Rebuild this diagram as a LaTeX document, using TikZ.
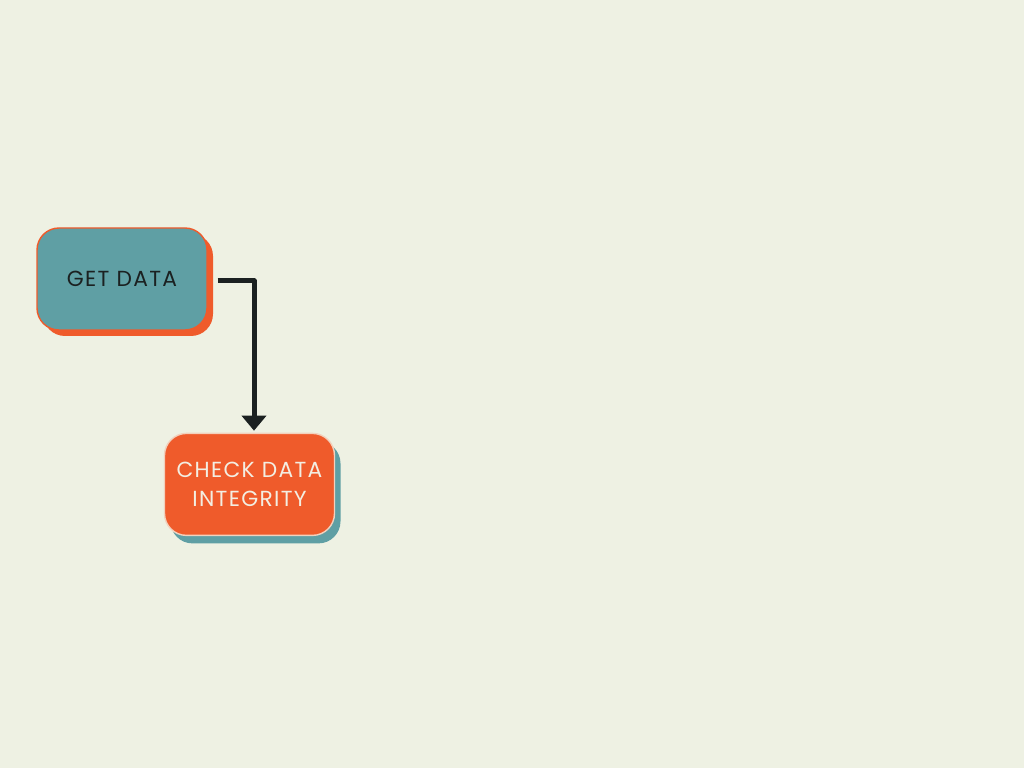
\documentclass[tikz,border=0pt]{standalone}
\usepackage{fontspec}
\setmainfont{Poppins}[LetterSpace=6]
\usetikzlibrary{arrows.meta,positioning,shadows}
\definecolor{bgcream}{HTML}{EEF1E3}
\definecolor{tealbox}{HTML}{5F9FA4}
\definecolor{orangebox}{HTML}{EF5B2B}
\definecolor{darkline}{HTML}{1B2121}
\definecolor{lighttext}{HTML}{F3EEE2}
\tikzset{
  flowbox/.style={rounded corners=.22cm,minimum width=1.70cm,minimum height=1.02cm,
    align=center,inner sep=0pt,font=\fontsize{6.2}{8.2}\selectfont,line width=.4pt},
  gdbox/.style={flowbox,fill=tealbox,draw=orangebox,text=darkline,
    general shadow={fill=orangebox,shadow xshift=.06cm,shadow yshift=-.06cm}},
  cdbox/.style={flowbox,fill=orangebox,draw=lighttext!80!orangebox,text=lighttext,
    general shadow={fill=tealbox,shadow xshift=.06cm,shadow yshift=-.08cm}},
}
\begin{document}
\begin{tikzpicture}[>={Triangle[width=.24cm,length=.15cm]},line join=round]
\fill[bgcream] (0,0) rectangle (10.24,7.68);
\useasboundingbox (0,0) rectangle (10.24,7.68);
\node[gdbox] at (1.22,4.89) (gd) {GET DATA};
\node[cdbox,below=1.02cm of gd,xshift=1.275cm] (cdi) {CHECK DATA\\INTEGRITY};

\draw[->,darkline,line width=.05cm] ([xshift=.1cm,yshift=-.02cm]gd.east) -| ([xshift=.045cm,yshift=.02cm]cdi.north);
\end{tikzpicture}
\end{document}
